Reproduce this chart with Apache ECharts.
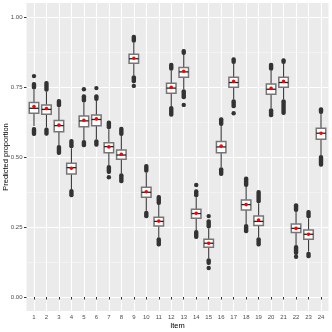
<!DOCTYPE html>
<html>
<head>
<meta charset="utf-8">
<script src="https://cdn.jsdelivr.net/npm/echarts@6/dist/echarts.min.js"></script>
<style>
  html, body { margin: 0; padding: 0; background: #fff; }
  #chart { width: 332px; height: 332px; }
</style>
</head>
<body>
<div id="chart"></div>
<script>
// items on the x axis
const items = ['1','2','3','4','5','6','7','8','9','10','11','12','13','14','15','16','17','18','19','20','21','22','23','24'];
const yTicks = [0, 0.25, 0.5, 0.75, 1];
const yMinor = [0.125, 0.375, 0.625, 0.875];

// box stats per item
const whiskerLow  = [0.611,0.605,0.543,0.386,0.561,0.563,0.471,0.442,0.792,0.308,0.213,0.682,0.742,0.239,0.138,0.463,0.706,0.261,0.213,0.674,0.706,0.186,0.162,0.507];
const q1          = [0.656,0.653,0.590,0.439,0.608,0.612,0.515,0.492,0.835,0.356,0.254,0.7275,0.785,0.281,0.1775,0.515,0.749,0.311,0.255,0.724,0.749,0.230,0.206,0.563];
const median      = [0.674,0.670,0.612,0.462,0.629,0.634,0.537,0.507,0.851,0.374,0.270,0.746,0.804,0.298,0.192,0.536,0.766,0.330,0.270,0.742,0.766,0.245,0.224,0.585];
const q3          = [0.695,0.686,0.630,0.4775,0.646,0.650,0.551,0.525,0.867,0.392,0.285,0.763,0.820,0.313,0.206,0.555,0.785,0.346,0.289,0.761,0.785,0.261,0.239,0.6025];
const whiskerHigh = [0.741,0.733,0.678,0.531,0.695,0.700,0.599,0.575,0.908,0.444,0.329,0.808,0.864,0.356,0.245,0.611,0.832,0.393,0.335,0.808,0.832,0.304,0.281,0.654];
const means       = [0.680,0.673,0.614,0.460,0.631,0.636,0.536,0.510,0.8525,0.376,0.271,0.749,0.806,0.299,0.192,0.539,0.770,0.330,0.275,0.745,0.770,0.245,0.224,0.585];

// dense outlier runs [low end, high end]
const outHigh = [[0.741,0.768],[0.733,0.771],[0.678,0.707],[0.531,0.564],[0.695,0.724],[0.700,0.724],[0.599,0.630],[0.575,0.608],[0.908,0.937],[0.444,0.475],[0.329,0.364],[0.808,0.837],[0.864,0.886],[0.356,0.385],[0.245,0.2775],[0.611,0.642],[0.832,0.856],[0.393,0.430],[0.335,0.382],[0.808,0.837],[0.832,0.8525],[0.304,0.335],[0.281,0.311],[0.654,0.6775]];
const outLow  = [[0.575,0.607],[0.576,0.605],[0.507,0.543],[0.356,0.386],[0.535,0.561],[0.537,0.563],[0.439,0.471],[0.406,0.442],[0.763,0.792],[0.281,0.308],[0.180,0.213],[0.644,0.682],[0.706,0.742],[0.207,0.239],[0.114,0.138],[0.432,0.463],[0.674,0.706],[0.2275,0.261],[0.180,0.213],[0.642,0.674],[0.650,0.706],[0.150,0.186],[0.138,0.162],[0.465,0.507]];
// lone outliers [item, value]
const outPoints = [[1,0.789],[5,0.742],[6,0.746],[7,0.4275],[9,0.754],[13,0.686],[14,0.400],[15,0.289],[15,0.1035],[17,0.656],[22,0.144]];

const boxData = items.map((_, i) => [i + 1, whiskerLow[i], q1[i], median[i], q3[i], whiskerHigh[i]]);
const bandData = [];
items.forEach((_, i) => {
  bandData.push([i + 1, outHigh[i][0], outHigh[i][1]]);
  bandData.push([i + 1, outLow[i][0], outLow[i][1]]);
});
const meanData = items.map((_, i) => [i + 1, means[i]]);

function renderBox(params, api) {
  const x = api.value(0);
  const lo = api.coord([x, api.value(1)]);
  const b1 = api.coord([x, api.value(2)]);
  const md = api.coord([x, api.value(3)]);
  const b3 = api.coord([x, api.value(4)]);
  const hi = api.coord([x, api.value(5)]);
  const half = 4.75;
  return {
    type: 'group',
    children: [
      { type: 'line', shape: { x1: lo[0], y1: lo[1], x2: b1[0], y2: b1[1] }, style: { stroke: '#3a3a3a', lineWidth: 1.1 } },
      { type: 'line', shape: { x1: b3[0], y1: b3[1], x2: hi[0], y2: hi[1] }, style: { stroke: '#3a3a3a', lineWidth: 1.1 } },
      { type: 'rect', shape: { x: b3[0] - half, y: b3[1], width: half * 2, height: b1[1] - b3[1] },
        style: { fill: '#ffffff', stroke: '#767676', lineWidth: 1.5 } },
      { type: 'line', shape: { x1: md[0] - half, y1: md[1], x2: md[0] + half, y2: md[1] }, style: { stroke: '#222', lineWidth: 1.3 } }
    ]
  };
}

function renderBand(params, api) {
  const x = api.value(0);
  const a = api.coord([x, api.value(1)]);
  const b = api.coord([x, api.value(2)]);
  const w = 4.4;
  return {
    type: 'rect',
    shape: { x: a[0] - w / 2, y: b[1], width: w, height: a[1] - b[1], r: 2 },
    style: { fill: '#333' }
  };
}

const chart = echarts.init(document.getElementById('chart'));
const tickFont = { color: '#4d4d4d', fontSize: 6, fontFamily: 'Liberation Sans' };

chart.setOption({
  animation: false,
  grid: { left: 26.5, right: 3.5, top: 3, bottom: 21, show: true, backgroundColor: '#ebebeb', borderWidth: 0,
    outerBoundsMode: 'none', containLabel: false },
  xAxis: {
    type: 'value', min: 0.4, max: 24.6,
    name: 'Item', nameLocation: 'middle', nameGap: 11, nameMoveOverlap: false,
    nameTextStyle: { color: '#000', fontSize: 7.5, fontFamily: 'Liberation Sans' },
    axisLine: { show: false },
    axisTick: { show: true, length: 2.5, lineStyle: { color: '#333' }, customValues: items.map((_, i) => i + 1) },
    axisLabel: Object.assign({ margin: 3.5, customValues: items.map((_, i) => i + 1),
      formatter: v => items[Math.round(v) - 1] }, tickFont),
    splitLine: { show: true, lineStyle: { color: '#fff', width: 1.1 } }
  },
  yAxis: [{
    type: 'value', min: -0.05, max: 1.05,
    name: 'Predicted proportion', nameLocation: 'middle', nameGap: 17, nameMoveOverlap: false,
    nameTextStyle: { color: '#000', fontSize: 7.5, fontFamily: 'Liberation Sans' },
    axisLine: { show: false },
    axisTick: { show: true, length: 2.5, lineStyle: { color: '#333' }, customValues: yTicks },
    axisLabel: Object.assign({ margin: 4, customValues: yTicks, formatter: v => v.toFixed(2) }, tickFont),
    splitLine: { show: true, lineStyle: { color: '#fff', width: 1.1 } }
  }, {
    type: 'value', min: -0.05, max: 1.05, position: 'left',
    axisLine: { show: false },
    axisTick: { show: false, customValues: yMinor },
    axisLabel: { show: false, customValues: yMinor },
    splitLine: { show: true, lineStyle: { color: '#f7f7f7', width: 0.6 } }
  }],
  series: [
    {
      name: 'box', type: 'custom', renderItem: renderBox, z: 2,
      encode: { x: 0, y: [1, 2, 3, 4, 5] },
      data: boxData
    },
    {
      name: 'outlier runs', type: 'custom', renderItem: renderBand, z: 3,
      encode: { x: 0, y: [1, 2] },
      data: bandData
    },
    {
      name: 'outliers', type: 'scatter', symbolSize: 4.4, z: 3,
      itemStyle: { color: '#333', opacity: 1 },
      data: outPoints
    },
    {
      name: 'mean', type: 'scatter', symbolSize: 3.6, z: 4,
      itemStyle: { color: '#ff0000', opacity: 1 },
      data: meanData
    }
  ]
});
</script>
</body>
</html>
